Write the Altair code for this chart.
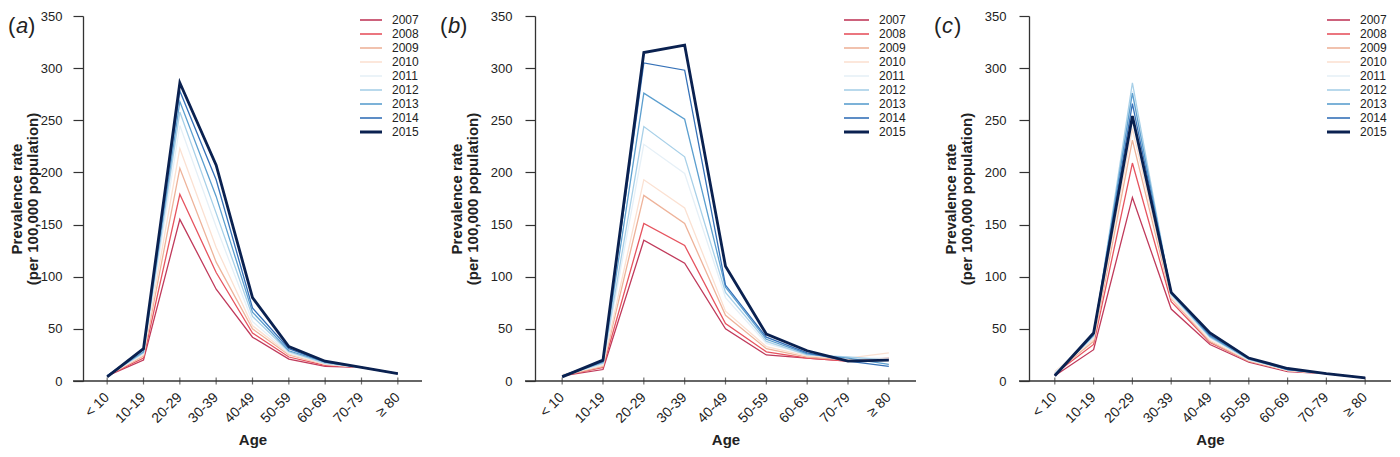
import altair as alt
import pandas as pd

ages = ["< 10", "10-19", "20-29", "30-39", "40-49", "50-59", "60-69", "70-79", "≥ 80"]
years = ["2007", "2008", "2009", "2010", "2011", "2012", "2013", "2014", "2015"]
colors = ["#c03a5b", "#e6545f", "#eeb39a", "#fbe1d2", "#e6f0f7",
          "#a8d0e8", "#5c9fcf", "#3571b8", "#0a2150"]

panel_a = {
    "2007": [5, 20, 155, 88, 42, 21, 14, 13, 7],
    "2008": [5, 22, 179, 104, 46, 23, 15, 13, 7],
    "2009": [5, 24, 204, 114, 50, 25, 16, 13, 7],
    "2010": [5, 25, 223, 128, 53, 26, 16, 13, 7],
    "2011": [5, 26, 245, 148, 57, 27, 17, 13, 7],
    "2012": [5, 27, 258, 161, 62, 28, 17, 13, 7],
    "2013": [5, 28, 268, 177, 66, 29, 18, 13, 7],
    "2014": [5, 30, 278, 193, 70, 31, 18, 13, 7],
    "2015": [4, 31, 286, 207, 80, 33, 19, 13, 7],
}
panel_b = {
    "2007": [5, 11, 135, 113, 50, 25, 22, 19, 21],
    "2008": [5, 13, 151, 130, 55, 28, 22, 19, 22],
    "2009": [5, 14, 178, 151, 63, 31, 23, 20, 22],
    "2010": [6, 15, 193, 166, 67, 33, 24, 22, 27],
    "2011": [5, 16, 227, 199, 80, 36, 25, 22, 22],
    "2012": [5, 17, 244, 215, 85, 38, 25, 23, 20],
    "2013": [5, 18, 276, 251, 90, 40, 26, 22, 16],
    "2014": [5, 19, 305, 298, 92, 42, 27, 19, 14],
    "2015": [4, 20, 315, 322, 110, 45, 29, 19, 20],
}
panel_c = {
    "2007": [5, 30, 176, 69, 35, 18, 9, 7, 3],
    "2008": [7, 35, 209, 76, 37, 19, 10, 7, 3],
    "2009": [8, 38, 231, 79, 38, 19, 10, 7, 3],
    "2010": [9, 40, 242, 80, 39, 20, 10, 7, 3],
    "2011": [8, 42, 278, 82, 41, 20, 11, 7, 3],
    "2012": [7, 43, 286, 83, 42, 21, 11, 7, 3],
    "2013": [6, 44, 276, 84, 43, 21, 11, 7, 3],
    "2014": [5, 45, 266, 85, 44, 22, 11, 7, 3],
    "2015": [5, 46, 254, 85, 46, 22, 12, 7, 3],
}
y_ticks = [0, 50, 100, 150, 200, 250, 300, 350]

FONT = "Liberation Sans"
INK = "#222222"
AX = "#333333"
H = 365


def panel(values, letter, width, lpad, tpad, lab_x, leg_x, sym_len):
    rows = []
    for y in years:
        for i, (a, v) in enumerate(zip(ages, values[y])):
            rows.append({"age": a, "idx": i, "year": y, "value": v})
    df = pd.DataFrame(rows)

    cscale = alt.Scale(domain=years, range=colors)
    xenc = alt.X("age:N", sort=ages,
                 scale=alt.Scale(domain=ages, padding=0.33),
                 axis=alt.Axis(title="Age", labelAngle=-45, labelAlign="right",
                               labelBaseline="middle", labelFontSize=14,
                               labelFont=FONT, labelColor=INK, labelPadding=14,
                               ticks=False, domain=False, grid=False,
                               titleFont=FONT, titleFontSize=15,
                               titleFontWeight="bold", titleColor=INK,
                               titlePadding=7))
    yenc = alt.Y("value:Q",
                 scale=alt.Scale(domain=[0, 350], nice=False, zero=True),
                 axis=alt.Axis(values=y_ticks, title=["Prevalence rate", "(per 100,000 population)"],
                               tickSize=10, tickColor=AX, tickWidth=1.2,
                               domainColor=AX, domainWidth=1.3,
                               labelFont=FONT, labelFontSize=13, labelColor=INK,
                               labelPadding=lpad, grid=False,
                               titleFont=FONT, titleFontSize=15, titleFontWeight="bold",
                               titleColor=INK, titleLineHeight=16, titlePadding=tpad))
    lines = alt.Chart(df).mark_line().encode(
        x=xenc, y=yenc,
        color=alt.Color("year:O", scale=cscale, legend=None),
        strokeWidth=alt.condition(alt.datum.year == "2015", alt.value(2.8), alt.value(1.3)),
        order=alt.Order("idx:Q"),
    )
    xline = alt.Chart(pd.DataFrame({"z": [0]})).mark_rule(color=AX, strokeWidth=1.3).encode(
        y=alt.datum(0), x=alt.value(-10), x2=alt.value(width))
    ticks = alt.Chart(pd.DataFrame({"age": ages})).mark_tick(
        orient="vertical", size=7, thickness=1.2, color=AX).encode(
        x=alt.X("age:N", sort=ages), y=alt.datum(0))
    main = alt.layer(xline, ticks, lines)

    # legend built from the year list
    ldf = pd.DataFrame({"year": years})
    ly = alt.Y("year:O", scale=alt.Scale(type="point", domain=years, range=[4, 116], padding=0),
               axis=None)
    lrule = alt.Chart(ldf).mark_rule().encode(
        y=ly, x=alt.value(leg_x), x2=alt.value(leg_x + sym_len),
        color=alt.Color("year:O", scale=cscale, legend=None),
        strokeWidth=alt.condition(alt.datum.year == "2015", alt.value(3), alt.value(1.6)))
    ltext = alt.Chart(ldf).mark_text(align="left", baseline="middle", font=FONT,
                                     fontSize=12, color=INK).encode(
        y=ly, x=alt.value(leg_x + sym_len + 10), text="year:N")
    legend = alt.layer(lrule, ltext)

    ty = 10
    t1 = alt.Chart(pd.DataFrame({"z": [0]})).mark_text(
        text="(", font=FONT, fontSize=22, align="left", baseline="middle", color=INK
    ).encode(x=alt.value(lab_x), y=alt.value(ty))
    t2 = alt.Chart(pd.DataFrame({"z": [0]})).mark_text(
        text=letter, font=FONT, fontSize=22, fontStyle="italic", align="left",
        baseline="middle", color=INK
    ).encode(x=alt.value(lab_x + 8), y=alt.value(ty))
    t3 = alt.Chart(pd.DataFrame({"z": [0]})).mark_text(
        text=")", font=FONT, fontSize=22, align="left", baseline="middle", color=INK
    ).encode(x=alt.value(lab_x + 20), y=alt.value(ty))
    return alt.layer(main, legend, t1, t2, t3).resolve_scale(y="independent").properties(
        width=width, height=H)


pa = panel(panel_a, "a", 339, 11, 0, -75, 277, 22)
pb = panel(panel_b, "b", 381, 13, 10, -95, 309, 25)
pc = panel(panel_c, "c", 362, 13, 10, -95, 298, 23)

chart = alt.hconcat(pa, pb, pc, spacing=17).resolve_scale(
    color="independent", x="independent", y="independent"
).properties(padding={"left": 0, "top": 2, "right": 0, "bottom": 0}).configure_view(stroke=None)

chart.save("out.html", embed_options={"renderer": "svg", "actions": False})
